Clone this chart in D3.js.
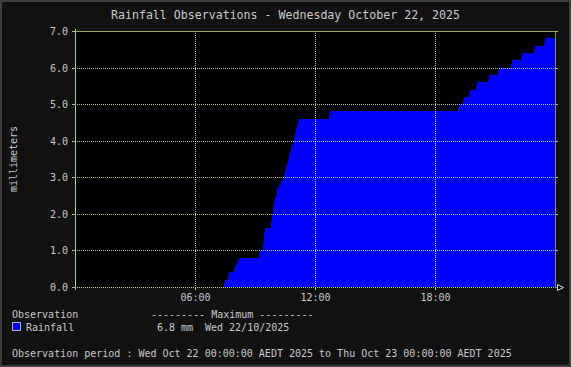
<!DOCTYPE html>
<html>
<head>
<meta charset="utf-8">
<script src="https://cdn.jsdelivr.net/npm/d3@7"></script>
<style>
    body { margin: 0; background: #121212; }
    svg { display: block; }
    text { font-family: "DejaVu Sans Mono", monospace; fill: #c8c8c8; }
</style>
</head>
<body>
<div id="chart"></div>
<script>
// cumulative rainfall readings (time of change, mm)
var obsTimes = ["00:00", "07:27", "07:30", "07:39", "07:42", "07:57", "08:00", "08:06", "08:12",
    "09:12", "09:15", "09:24", "09:27", "09:30", "09:48", "09:51", "09:54", "09:57", "10:00",
    "10:03", "10:06", "10:12", "10:18", "10:24", "10:27", "10:30", "10:33", "10:36", "10:39",
    "10:42", "10:45", "10:48", "10:51", "10:54", "10:57", "11:00", "11:03", "11:06", "11:09",
    "11:12", "12:42", "12:45", "19:09", "19:12", "19:24", "19:27", "19:42", "19:45", "20:03",
    "20:06", "20:39", "20:42", "21:09", "21:12", "21:48", "21:51", "22:18", "22:21", "22:57",
    "23:00", "23:27", "23:30", "24:00"];
var obsRain = [0, 0.1, 0.2, 0.3, 0.4, 0.5, 0.6, 0.7, 0.8,
    0.9, 1.0, 1.2, 1.5, 1.6, 1.8, 2.0, 2.2, 2.35, 2.45,
    2.55, 2.7, 2.8, 2.9, 3.0, 3.1, 3.2, 3.3, 3.4, 3.5,
    3.6, 3.7, 3.8, 3.9, 4.0, 4.1, 4.2, 4.35, 4.45, 4.55,
    4.6, 4.7, 4.8, 4.9, 5.0, 5.1, 5.2, 5.3, 5.4, 5.5,
    5.6, 5.7, 5.8, 5.9, 6.0, 6.1, 6.2, 6.3, 6.4, 6.5,
    6.6, 6.7, 6.8, 6.8];

var yTicks = [0, 1, 2, 3, 4, 5, 6, 7];
var xTickHours = [6, 12, 18];

var titleText = "Rainfall Observations - Wednesday October 22, 2025";
var yLabel = "millimeters";
var legendHead = "Observation";
var legendMaxHead = "--------- Maximum ---------";
var seriesName = "Rainfall";
var maxValue = "6.8 mm";
var maxDate = "Wed 22/10/2025";
var periodText = "Observation period : Wed Oct 22 00:00:00 AEDT 2025 to Thu Oct 23 00:00:00 AEDT 2025";

var width = 571,
    height = 367,
    plot = {left: 75, right: 555, top: 31, bottom: 287},
    day = new Date(2025, 9, 22);

function toDate(s) {
    var p = s.split(":");
    return new Date(day.getTime() + (+p[0] * 60 + +p[1]) * 60000);
}

var data = obsTimes.map(function(t, i) {
    return {time: toDate(t), value: obsRain[i]};
});

var x = d3.scaleTime()
    .domain([day, toDate("24:00")])
    .range([plot.left, plot.right]);

var y = d3.scaleLinear()
    .domain([0, 7])
    .range([plot.bottom, plot.top]);

var svg = d3.select("#chart").append("svg")
    .attr("width", width)
    .attr("height", height);

// frame and plot background
svg.append("rect")
    .attr("x", 1).attr("y", 1)
    .attr("width", width - 2).attr("height", height - 2)
    .attr("fill", "#121212")
    .attr("stroke", "#3e3e3e")
    .attr("stroke-width", 2);

svg.append("rect")
    .attr("x", plot.left).attr("y", plot.top)
    .attr("width", plot.right - plot.left)
    .attr("height", plot.bottom - plot.top)
    .attr("fill", "#000");

// rainfall area
var area = d3.area()
    .curve(d3.curveStepAfter)
    .x(function(d) { return x(d.time); })
    .y0(y(0))
    .y1(function(d) { return y(d.value); });

svg.append("path")
    .datum(data)
    .attr("d", area)
    .attr("fill", "#0000ff")
    .attr("shape-rendering", "crispEdges");

// grid on top of the data
var gridColor = "rgba(205,255,190,0.78)";
var grid = svg.append("g").attr("shape-rendering", "crispEdges");

grid.selectAll(".hgrid")
    .data(yTicks.slice(0, -1))
    .enter().append("line")
    .attr("x1", plot.left).attr("x2", plot.right)
    .attr("y1", function(d) { return y(d) + 0.5; })
    .attr("y2", function(d) { return y(d) + 0.5; })
    .attr("stroke", gridColor)
    .attr("stroke-dasharray", "1,1");

grid.selectAll(".vgrid")
    .data(xTickHours)
    .enter().append("line")
    .attr("x1", function(d) { return x(toDate(d + ":00")) + 0.5; })
    .attr("x2", function(d) { return x(toDate(d + ":00")) + 0.5; })
    .attr("y1", plot.top).attr("y2", plot.bottom)
    .attr("stroke", gridColor)
    .attr("stroke-dasharray", "1,1");

// top and right border lines
grid.append("line")
    .attr("x1", plot.left).attr("x2", plot.right + 3)
    .attr("y1", plot.top + 0.5).attr("y2", plot.top + 0.5)
    .attr("stroke", "#93a86a");

grid.append("line")
    .attr("x1", plot.right + 0.5).attr("x2", plot.right + 0.5)
    .attr("y1", plot.top).attr("y2", plot.bottom)
    .attr("stroke", "#8a8a4e");

// left axis line and ticks
grid.append("line")
    .attr("x1", plot.left + 0.5).attr("x2", plot.left + 0.5)
    .attr("y1", plot.top - 2).attr("y2", plot.bottom + 3)
    .attr("stroke", "#9ccf84");

grid.selectAll(".ltick")
    .data(yTicks)
    .enter().append("line")
    .attr("x1", plot.left - 3).attr("x2", plot.left)
    .attr("y1", function(d) { return y(d) + 0.5; })
    .attr("y2", function(d) { return y(d) + 0.5; })
    .attr("stroke", "#8cc878");

grid.selectAll(".rtick")
    .data(yTicks)
    .enter().append("line")
    .attr("x1", plot.right).attr("x2", plot.right + 3)
    .attr("y1", function(d) { return y(d) + 0.5; })
    .attr("y2", function(d) { return y(d) + 0.5; })
    .attr("stroke", "#8cc878");

grid.selectAll(".btick")
    .data(xTickHours)
    .enter().append("line")
    .attr("x1", function(d) { return x(toDate(d + ":00")) + 0.5; })
    .attr("x2", function(d) { return x(toDate(d + ":00")) + 0.5; })
    .attr("y1", plot.bottom).attr("y2", plot.bottom + 3)
    .attr("stroke", "#8cc878");

// x axis end and arrow
grid.append("line")
    .attr("x1", plot.right).attr("x2", plot.right + 2)
    .attr("y1", plot.bottom + 0.5).attr("y2", plot.bottom + 0.5)
    .attr("stroke", "#8a8a4e");

svg.append("path")
    .attr("d", "M" + (plot.right + 2.5) + "," + (plot.bottom - 2.5) +
        " L" + (plot.right + 8.5) + "," + (plot.bottom + 0.5) +
        " L" + (plot.right + 2.5) + "," + (plot.bottom + 3.5) + " Z")
    .attr("fill", "#000")
    .attr("stroke", "#e0e0e0");

// labels
svg.append("text")
    .attr("x", width / 2).attr("y", 19)
    .attr("text-anchor", "middle")
    .style("font-size", "11.6px")
    .attr("fill", "#d2d2d2")
    .text(titleText);

svg.selectAll(".ylab")
    .data(yTicks)
    .enter().append("text")
    .attr("x", 68)
    .attr("y", function(d) { return y(d) + 4; })
    .attr("text-anchor", "end")
    .style("font-size", "10px")
    .text(function(d) { return d3.format(".1f")(d); });

svg.selectAll(".xlab")
    .data(xTickHours)
    .enter().append("text")
    .attr("x", function(d) { return x(toDate(d + ":00")) + 0.5; })
    .attr("y", 301)
    .attr("text-anchor", "middle")
    .style("font-size", "10px")
    .text(function(d) { return d3.timeFormat("%H:%M")(toDate(d + ":00")); });

svg.append("text")
    .attr("transform", "translate(17,159) rotate(-90)")
    .attr("text-anchor", "middle")
    .style("font-size", "10px")
    .text(yLabel);

// legend
var legend = svg.append("g").style("font-size", "10px");

legend.append("text").attr("x", 12).attr("y", 318).text(legendHead);
legend.append("text").attr("x", 151).attr("y", 318).text(legendMaxHead);

legend.append("rect")
    .attr("x", 12.5).attr("y", 322.5)
    .attr("width", 8).attr("height", 8)
    .attr("fill", "#0000ff")
    .attr("stroke", "#b0b0b0");

legend.append("text").attr("x", 26).attr("y", 331).text(seriesName);
legend.append("text").attr("x", 157).attr("y", 331).text(maxValue);
legend.append("text").attr("x", 205).attr("y", 331).text(maxDate);

legend.append("text").attr("x", 12).attr("y", 357).text(periodText);
</script>
</body>
</html>
